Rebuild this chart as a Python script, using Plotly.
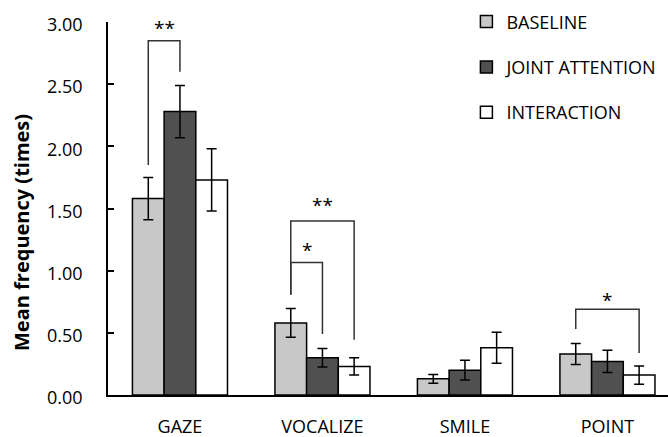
import plotly.graph_objects as go

categories = ["GAZE", "VOCALIZE", "SMILE", "POINT"]
series_names = ["BASELINE", "JOINT ATTENTION", "INTERACTION"]
baseline = [1.58, 0.58, 0.13, 0.33]
joint_attention = [2.28, 0.30, 0.20, 0.27]
interaction = [1.73, 0.23, 0.38, 0.16]
baseline_err = [0.17, 0.115, 0.035, 0.085]
joint_attention_err = [0.21, 0.075, 0.08, 0.09]
interaction_err = [0.25, 0.07, 0.125, 0.073]
y_ticks = [0.0, 0.5, 1.0, 1.5, 2.0, 2.5, 3.0]

# significance brackets: category, from-series, to-series, top, left leg bottom, right leg bottom, label, label y
brackets = [
    (0, 0, 1, 2.85, 1.85, 2.60, "**", 2.955),
    (1, 0, 2, 1.40, 0.806, 0.445, "**", 1.525),
    (1, 0, 1, 1.066, 0.806, 0.49, "*", 1.17),
    (3, 0, 2, 0.69, 0.53, 0.338, "*", 0.765),
]

values = [baseline, joint_attention, interaction]
errors = [baseline_err, joint_attention_err, interaction_err]
fills = ["#c8c8c8", "#505050", "#ffffff"]

FONT = "Open Sans"
BARGAP = 0.333
x_idx = list(range(len(categories)))

fig = go.Figure()
for k, name in enumerate(series_names):
    fig.add_trace(go.Bar(
        x=x_idx, y=values[k], name=name, legendgroup=name,
        marker=dict(color=fills[k], line=dict(color="black", width=1.5)),
        error_y=dict(type="data", array=errors[k], visible=True,
                     color="black", thickness=1.5, width=5),
    ))

bar_w = (1 - BARGAP) / len(series_names)
def bar_center(cat, s):
    return cat + (s - (len(series_names) - 1) / 2) * bar_w

for cat, s0, s1, top, lb, rb, label, ly in brackets:
    xl = bar_center(cat, s0)
    xr = bar_center(cat, s1)
    fig.add_shape(type="path",
                  path=f"M {xl},{lb} L {xl},{top} L {xr},{top} L {xr},{rb}",
                  line=dict(color="#333333", width=1.5), xref="x", yref="y")
    fig.add_annotation(x=(xl + xr) / 2, y=ly, text=label, showarrow=False,
                       xref="x", yref="y", font=dict(family=FONT, size=19, color="black"))

fig.add_annotation(text="<b>Mean frequency (times)</b>", xref="paper", yref="paper",
                   x=(22 - 108) / 560, y=(395 - 233) / 373, xanchor="center", yanchor="middle",
                   textangle=-90, showarrow=False,
                   font=dict(family=FONT, size=20, color="black"))

fig.update_layout(
    width=668, height=437,
    margin=dict(l=108, r=0, t=22, b=42, autoexpand=False),
    paper_bgcolor="white", plot_bgcolor="white",
    barmode="group", bargap=BARGAP, bargroupgap=0,
    font=dict(family=FONT, size=18, color="black"),
    legend=dict(x=0.64, y=1.05, xanchor="left", yanchor="top",
                font=dict(family=FONT, size=18), tracegroupgap=19,
                bgcolor="rgba(0,0,0,0)", itemclick=False),
    xaxis=dict(range=[-0.505, 3.425], tickvals=x_idx, ticktext=categories,
               showline=True, linecolor="black", linewidth=1.5, automargin=False,
               ticks="", showgrid=False, zeroline=False, ticklabelstandoff=15),
    yaxis=dict(range=[0, 3], tickvals=y_ticks, tickformat=".2f", automargin=False,
               showline=True, linecolor="black", linewidth=1.5,
               ticks="inside", ticklen=6, tickcolor="black", tickwidth=1.5,
               showgrid=False, zeroline=False, ticklabelstandoff=20, ticklabelshift=3),
)

fig.write_html("out.html", config={"displayModeBar": False},
               post_script="document.body.style.margin='0px';document.body.style.overflow='hidden';")
